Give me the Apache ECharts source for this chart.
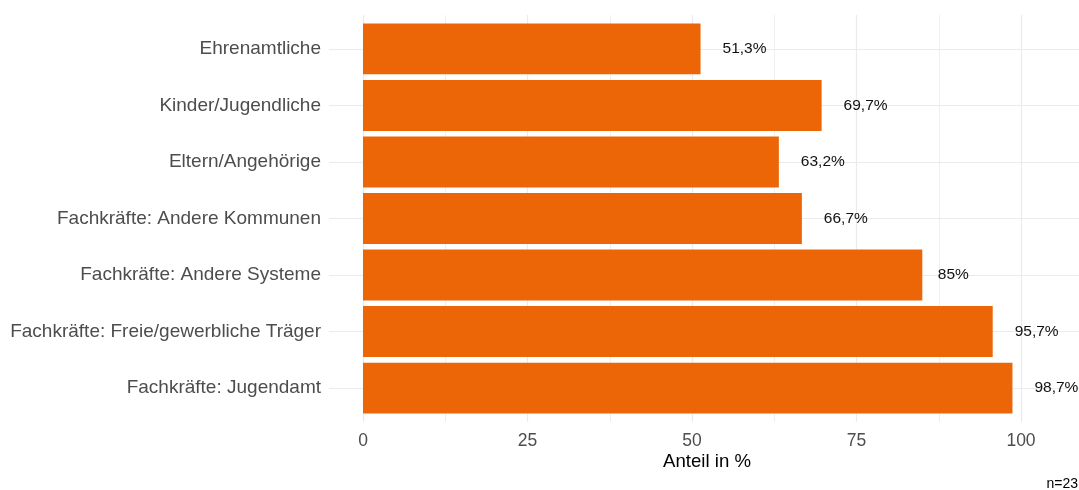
<!DOCTYPE html>
<html>
<head>
<meta charset="utf-8">
<style>
  html, body { margin: 0; padding: 0; background: #ffffff; }
  #chart { width: 1079px; height: 490px; }
</style>
<script src="https://cdn.jsdelivr.net/npm/echarts@6/dist/echarts.min.js"></script>
</head>
<body>
<div id="chart"></div>
<script>
// Gruppen (von oben nach unten) und Anteile in %
const categories = [
  'Ehrenamtliche',
  'Kinder/Jugendliche',
  'Eltern/Angehörige',
  'Fachkräfte: Andere Kommunen',
  'Fachkräfte: Andere Systeme',
  'Fachkräfte: Freie/gewerbliche Träger',
  'Fachkräfte: Jugendamt'
];
const shares = [51.3, 69.7, 63.2, 66.7, 85, 95.7, 98.7];
const xTicks = [0, 25, 50, 75, 100];
const axisTitle = 'Anteil in %';
const sampleNote = 'n=23';

const FONT = 'Liberation Sans, Arial, Helvetica, sans-serif';
const BAR_COLOR = '#EC6607';
const GRID_COLOR = '#EBEBEB';
const LABEL_SIZE = 15.5;

// Zahl im deutschen Format: Dezimalkomma
function fmt(v) {
  return String(v).replace('.', ',') + '%';
}

// Textbreite messen, damit das Label um eine halbe Labelbreite vom Balkenende abgerückt wird
const measureCtx = document.createElement('canvas').getContext('2d');
measureCtx.font = LABEL_SIZE + 'px ' + FONT;
function halfWidth(text) {
  return measureCtx.measureText(text).width / 2;
}

// Panel-Geometrie: 7 Kategorien plus 0,6 Einheiten Rand oben und unten
const panelTop = 15, panelBottom = 422, panelLeft = 329;
const unit = (panelBottom - panelTop) / (categories.length + 0.2);
const H = 490, W = 1079;

const chart = echarts.init(document.getElementById('chart'), null, { renderer: 'canvas' });

chart.setOption({
  animation: false,
  backgroundColor: '#ffffff',
  grid: [
    // 0: Balken
    { left: 363, width: 658, top: panelTop + 0.1 * unit, bottom: H - (panelBottom - 0.1 * unit), containLabel: false },
    // 1: senkrechte Gitterlinien + x-Beschriftung
    { left: 363, width: 658, top: panelTop, bottom: H - panelBottom, containLabel: false },
    // 2: waagrechte Gitterlinien über die volle Panelbreite
    { left: panelLeft, right: 0, top: panelTop + 0.6 * unit, bottom: H - (panelBottom - 0.6 * unit), containLabel: false }
  ],
  xAxis: [
    {
      gridIndex: 0, type: 'value', min: 0, max: 100,
      axisLine: { show: false }, axisTick: { show: false },
      axisLabel: { show: false }, splitLine: { show: false }
    },
    {
      gridIndex: 1, type: 'value', min: 0, max: 100, interval: 25,
      axisLine: { show: false }, axisTick: { show: false },
      minorTick: { show: false, splitNumber: 2 },
      splitLine: { show: true, lineStyle: { color: GRID_COLOR, width: 1.2 } },
      minorSplitLine: { show: true, lineStyle: { color: GRID_COLOR, width: 0.8 } },
      axisLabel: {
        show: true, color: '#4D4D4D', fontSize: 17.5, fontFamily: FONT, margin: 10,
        customValues: xTicks,
        formatter: v => String(v)
      }
    },
    {
      gridIndex: 2, type: 'value', min: 0, max: 1, show: false
    }
  ],
  yAxis: [
    {
      gridIndex: 0, type: 'category', data: categories, inverse: true,
      axisLine: { show: false }, axisTick: { show: false },
      splitLine: { show: false },
      axisLabel: { color: '#4D4D4D', fontSize: 19, fontFamily: FONT, margin: 42 }
    },
    {
      gridIndex: 1, type: 'value', min: 0, max: 1, show: false
    },
    {
      gridIndex: 2, type: 'category', data: categories, inverse: true, boundaryGap: false,
      axisLine: { show: false }, axisTick: { show: false }, axisLabel: { show: false },
      splitLine: { show: true, interval: 0, lineStyle: { color: GRID_COLOR, width: 1.2 } }
    }
  ],
  series: [
    {
      type: 'bar',
      xAxisIndex: 0, yAxisIndex: 0,
      barCategoryGap: '10%',
      z: 3,
      itemStyle: { color: BAR_COLOR },
      data: shares.map(v => ({
        value: v,
        label: { distance: halfWidth(fmt(v)) }
      })),
      label: {
        show: true,
        position: 'right',
        color: '#111111',
        fontSize: LABEL_SIZE,
        fontFamily: FONT,
        formatter: p => fmt(p.value)
      }
    }
  ],
  graphic: [
    {
      type: 'text',
      x: (panelLeft + W) / 2 + 3,
      y: 471,
      style: {
        text: axisTitle, fill: '#000000', font: '18.6px ' + FONT,
        align: 'center', verticalAlign: 'bottom'
      }
    },
    {
      type: 'text',
      x: W - 1,
      y: 491,
      style: {
        text: sampleNote, fill: '#000000', font: '14px ' + FONT,
        align: 'right', verticalAlign: 'bottom'
      }
    }
  ]
});
</script>
</body>
</html>
